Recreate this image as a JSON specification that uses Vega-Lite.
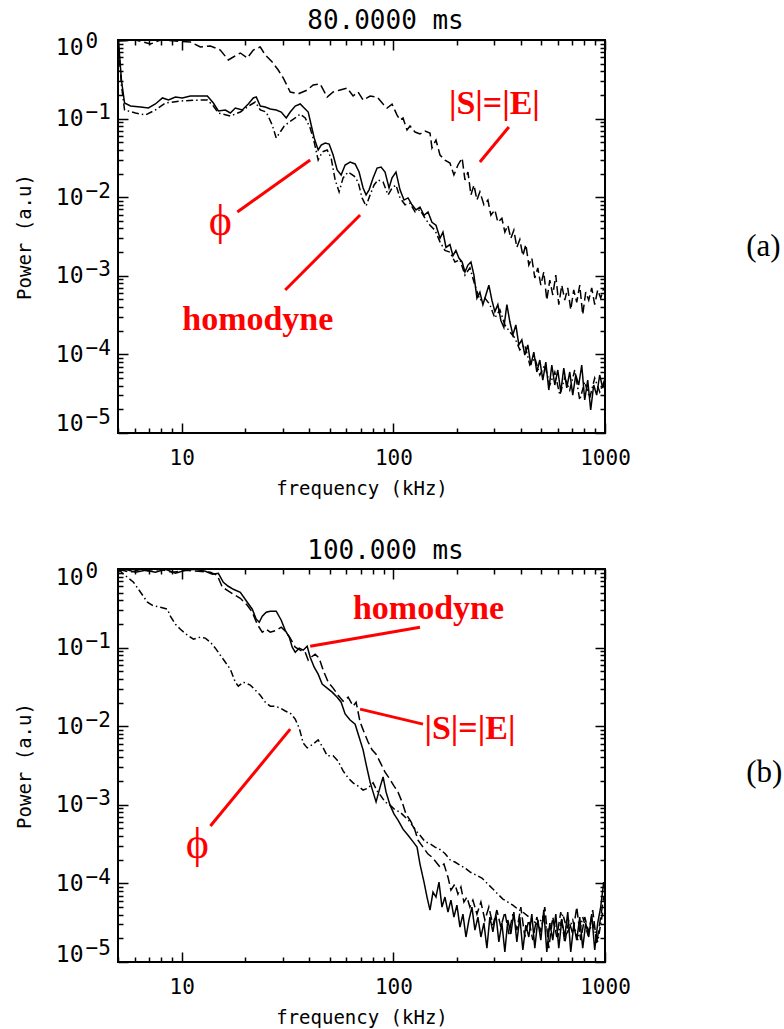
{
"$schema": "https://vega.github.io/schema/vega-lite/v6.json",
"background": "white",
"padding": {"left": 14, "top": 7, "right": 0, "bottom": 0},
"spacing": 38,
"config": {
  "view": {"stroke": "black", "strokeWidth": 2},
  "font": "DejaVu Sans Mono",
  "axis": {"grid": false, "domain": false, "labelFont": "DejaVu Sans Mono", "titleFont": "DejaVu Sans Mono", "labelColor": "black", "titleColor": "black", "tickColor": "black", "labelOverlap": false, "labelFlush": false, "titleFontWeight": "normal"},
  "title": {"font": "DejaVu Sans Mono", "fontSize": 26, "fontWeight": "normal", "color": "black"}
},
"datasets": {
  "aS": [{"f":5.03,"p":0.971},{"f":6.05,"p":1.0},{"f":7.12,"p":0.889},{"f":7.93,"p":1.0},{"f":9.34,"p":0.971},{"f":10.99,"p":0.943},{"f":12.25,"p":0.815},{"f":13.66,"p":0.839},{"f":15.22,"p":0.746},{"f":16.6,"p":0.557},{"f":17.54,"p":0.608},{"f":18.92,"p":0.683},{"f":20.41,"p":0.59},{"f":21.79,"p":0.746},{"f":23.51,"p":0.815},{"f":24.82,"p":0.644},{"f":26.77,"p":0.525},{"f":28.58,"p":0.415},{"f":30.17,"p":0.329},{"f":32.56,"p":0.218},{"f":35.51,"p":0.206},{"f":39.16,"p":0.231},{"f":41.8,"p":0.268},{"f":45.1,"p":0.276},{"f":48.67,"p":0.188},{"f":51.94,"p":0.218},{"f":56.04,"p":0.231},{"f":60.45,"p":0.245},{"f":64.53,"p":0.194},{"f":68.14,"p":0.218},{"f":71.94,"p":0.172},{"f":77.63,"p":0.194},{"f":83.79,"p":0.188},{"f":89.43,"p":0.153},{"f":93.4,"p":0.136},{"f":98.6,"p":0.153},{"f":104.1,"p":0.111},{"f":107.5,"p":0.096},{"f":111.1,"p":0.102},{"f":116,"p":0.0716},{"f":119.9,"p":0.0805},{"f":126.6,"p":0.0675},{"f":133.6,"p":0.0637},{"f":141.1,"p":0.0695},{"f":149,"p":0.0656},{"f":152.2,"p":0.0423},{"f":159,"p":0.0534},{"f":166.1,"p":0.0344},{"f":175.3,"p":0.0297},{"f":185.1,"p":0.0272},{"f":193.3,"p":0.0192},{"f":201.9,"p":0.0257},{"f":211.3,"p":0.0315},{"f":217.9,"p":0.0166},{"f":225.1,"p":0.0209},{"f":232.6,"p":0.0107},{"f":240.3,"p":0.0143},{"f":248.3,"p":0.0092},{"f":256.4,"p":0.0117},{"f":267.8,"p":0.008},{"f":279.7,"p":0.0092},{"f":288.9,"p":0.0059},{"f":301.7,"p":0.0069},{"f":311.7,"p":0.0048},{"f":325.6,"p":0.0054},{"f":336.4,"p":0.0036},{"f":347.5,"p":0.0044},{"f":359.1,"p":0.003},{"f":371,"p":0.0038},{"f":383.3,"p":0.0023},{"f":395.9,"p":0.0029},{"f":409.1,"p":0.0018},{"f":422.6,"p":0.0025},{"f":436.6,"p":0.00137},{"f":451,"p":0.00168},{"f":466,"p":0.00094},{"f":481.4,"p":0.00126},{"f":497.4,"p":0.00076},{"f":513.8,"p":0.00112},{"f":530.9,"p":0.00049},{"f":548.5,"p":0.00088},{"f":566.6,"p":0.00057},{"f":585.4,"p":0.00102},{"f":604.8,"p":0.00043},{"f":624.8,"p":0.00076},{"f":645.5,"p":0.00049},{"f":666.8,"p":0.0007},{"f":688.9,"p":0.00037},{"f":711.7,"p":0.00066},{"f":735.3,"p":0.00046},{"f":759.8,"p":0.00076},{"f":784.8,"p":0.00032},{"f":810.8,"p":0.00062},{"f":837.7,"p":0.00049},{"f":865.4,"p":0.0007},{"f":894.1,"p":0.00043},{"f":923.6,"p":0.00066},{"f":954.3,"p":0.00052},{"f":985.8,"p":0.0007}],
  "aH": [{"f":5.03,"p":0.95},{"f":5.19,"p":0.31},{"f":5.37,"p":0.158},{"f":5.73,"p":0.1446},{"f":6.39,"p":0.1405},{"f":6.96,"p":0.1364},{"f":7.51,"p":0.1534},{"f":8.11,"p":0.183},{"f":8.66,"p":0.1724},{"f":9.34,"p":0.1883},{"f":10.07,"p":0.183},{"f":10.99,"p":0.194},{"f":12.25,"p":0.194},{"f":13.22,"p":0.194},{"f":14.11,"p":0.158},{"f":14.9,"p":0.125},{"f":16.08,"p":0.1287},{"f":16.97,"p":0.1178},{"f":17.92,"p":0.1364},{"f":19.33,"p":0.1287},{"f":20.63,"p":0.1534},{"f":21.79,"p":0.183},{"f":22.5,"p":0.1883},{"f":23.51,"p":0.1446},{"f":24.82,"p":0.1405},{"f":26.2,"p":0.1325},{"f":27.96,"p":0.1287},{"f":29.53,"p":0.1213},{"f":31.18,"p":0.1018},{"f":32.56,"p":0.1213},{"f":34.38,"p":0.1446},{"f":36.3,"p":0.1534},{"f":37.91,"p":0.1364},{"f":39.6,"p":0.1213},{"f":40.9,"p":0.0829},{"f":42.26,"p":0.0567},{"f":44.13,"p":0.0399},{"f":45.6,"p":0.0461},{"f":47.62,"p":0.0489},{"f":49.74,"p":0.0475},{"f":51.94,"p":0.0344},{"f":54.26,"p":0.0222},{"f":56.65,"p":0.0192},{"f":59.17,"p":0.0257},{"f":62.47,"p":0.028},{"f":65.96,"p":0.0265},{"f":68.88,"p":0.0209},{"f":71.94,"p":0.0131},{"f":74.31,"p":0.0107},{"f":76.79,"p":0.0124},{"f":80.2,"p":0.0176},{"f":83.79,"p":0.0235},{"f":87.49,"p":0.0242},{"f":91.36,"p":0.0209},{"f":95.43,"p":0.0131},{"f":98.6,"p":0.0176},{"f":102.9,"p":0.0209},{"f":107.5,"p":0.0124},{"f":112.3,"p":0.0092},{"f":117.3,"p":0.0098},{"f":122.5,"p":0.008},{"f":128,"p":0.0069},{"f":133.6,"p":0.0075},{"f":139.6,"p":0.0059},{"f":145.8,"p":0.0065},{"f":152.2,"p":0.0048},{"f":159,"p":0.0044},{"f":166.1,"p":0.003},{"f":171.6,"p":0.0036},{"f":177.3,"p":0.0023},{"f":185.1,"p":0.0025},{"f":191.2,"p":0.0018},{"f":197.5,"p":0.0021},{"f":204.1,"p":0.00168},{"f":211.3,"p":0.0015},{"f":217.9,"p":0.00112},{"f":225.1,"p":0.00137},{"f":232.6,"p":0.0015},{"f":240.3,"p":0.00102},{"f":248.3,"p":0.00052},{"f":256.4,"p":0.00062},{"f":264.9,"p":0.00043},{"f":273.6,"p":0.00057},{"f":282.7,"p":0.00076},{"f":292.1,"p":0.00049},{"f":301.7,"p":0.00035},{"f":311.7,"p":0.00043},{"f":322.1,"p":0.00027},{"f":332.8,"p":0.00022},{"f":343.9,"p":0.00043},{"f":355.2,"p":0.00026},{"f":367,"p":0.000177},{"f":379.1,"p":0.000237},{"f":391.6,"p":0.000132},{"f":404.6,"p":0.000153},{"f":418,"p":0.0000983},{"f":431.9,"p":0.000132},{"f":446.2,"p":0.0000733},{"f":461,"p":0.000107},{"f":476.3,"p":0.0000597},{"f":492,"p":0.0000849},{"f":508.3,"p":0.0000472},{"f":525.2,"p":0.00008},{"f":542.6,"p":0.0000352},{"f":560.6,"p":0.0000733},{"f":579.1,"p":0.0000408},{"f":598.4,"p":0.0000633},{"f":618,"p":0.0000332},{"f":638.6,"p":0.0000671},{"f":659.6,"p":0.0000374},{"f":681.6,"p":0.0000597},{"f":704,"p":0.0000304},{"f":727.5,"p":0.0000547},{"f":751.5,"p":0.0000408},{"f":776.4,"p":0.0000733},{"f":802,"p":0.0000263},{"f":828.6,"p":0.0000472},{"f":855.9,"p":0.0000196},{"f":884.4,"p":0.0000408},{"f":913.4,"p":0.0000304},{"f":944.1,"p":0.0000547},{"f":975.4,"p":0.0000374},{"f":997,"p":0.0000472}],
  "aP": [{"f":5.03,"p":0.85},{"f":5.19,"p":0.268},{"f":5.37,"p":0.1287},{"f":6.05,"p":0.1178},{"f":6.74,"p":0.111},{"f":7.51,"p":0.1287},{"f":8.38,"p":0.158},{"f":9.86,"p":0.1675},{"f":12.25,"p":0.1724},{"f":13.22,"p":0.1724},{"f":14.11,"p":0.1446},{"f":14.9,"p":0.1178},{"f":16.97,"p":0.1079},{"f":18.92,"p":0.1213},{"f":21.09,"p":0.149},{"f":22.27,"p":0.1627},{"f":23.51,"p":0.1287},{"f":25.08,"p":0.1213},{"f":26.77,"p":0.0829},{"f":27.96,"p":0.0567},{"f":29.21,"p":0.0675},{"f":30.51,"p":0.0805},{"f":32.21,"p":0.0905},{"f":34.38,"p":0.1018},{"f":36.3,"p":0.1144},{"f":38.32,"p":0.1018},{"f":40.46,"p":0.0759},{"f":42.26,"p":0.0504},{"f":44.13,"p":0.0297},{"f":46.09,"p":0.0376},{"f":48.67,"p":0.0399},{"f":50.83,"p":0.0315},{"f":53.09,"p":0.0166},{"f":55.43,"p":0.0117},{"f":57.89,"p":0.0176},{"f":61.14,"p":0.0209},{"f":65.26,"p":0.0186},{"f":68.14,"p":0.0156},{"f":71.17,"p":0.0098},{"f":74.31,"p":0.0077},{"f":77.63,"p":0.0107},{"f":81.07,"p":0.0143},{"f":84.7,"p":0.0166},{"f":89.43,"p":0.0156},{"f":94.4,"p":0.0107},{"f":98.6,"p":0.0131},{"f":102.9,"p":0.0143},{"f":107.5,"p":0.0098},{"f":113.6,"p":0.008},{"f":119.9,"p":0.0084},{"f":126.6,"p":0.0065},{"f":133.6,"p":0.0069},{"f":141.1,"p":0.0054},{"f":149,"p":0.0044},{"f":157.3,"p":0.0038},{"f":166.1,"p":0.0027},{"f":175.3,"p":0.0021},{"f":185.1,"p":0.002},{"f":195.4,"p":0.0015},{"f":206.4,"p":0.0016},{"f":217.9,"p":0.00102},{"f":230,"p":0.00126},{"f":242.9,"p":0.00076},{"f":256.4,"p":0.00049},{"f":270.7,"p":0.00052},{"f":285.8,"p":0.00043},{"f":301.7,"p":0.00029},{"f":318.6,"p":0.00037},{"f":336.4,"p":0.000237},{"f":355.2,"p":0.000193},{"f":375,"p":0.000162},{"f":395.9,"p":0.000114},{"f":418,"p":0.000132},{"f":441.4,"p":0.0000733},{"f":466,"p":0.00009},{"f":492,"p":0.0000547},{"f":519.4,"p":0.0000733},{"f":548.5,"p":0.0000408},{"f":579.1,"p":0.0000597},{"f":611.4,"p":0.0000304},{"f":645.5,"p":0.0000501},{"f":681.6,"p":0.0000352},{"f":719.6,"p":0.0000633},{"f":759.8,"p":0.0000263},{"f":802,"p":0.0000445},{"f":846.9,"p":0.0000279},{"f":894.1,"p":0.0000501},{"f":944.1,"p":0.0000332},{"f":997,"p":0.0000472}],
  "bH": [{"f":5.03,"p":0.935},{"f":5.43,"p":0.991},{"f":6.05,"p":0.908},{"f":6.74,"p":0.962},{"f":7.51,"p":0.908},{"f":8.38,"p":0.991},{"f":9.34,"p":0.882},{"f":10.41,"p":0.962},{"f":11.6,"p":0.99},{"f":12.93,"p":0.935},{"f":13.96,"p":0.856},{"f":14.9,"p":0.882},{"f":15.73,"p":0.678},{"f":16.6,"p":0.603},{"f":17.54,"p":0.552},{"f":18.92,"p":0.506},{"f":20.41,"p":0.378},{"f":21.55,"p":0.308},{"f":22.5,"p":0.23},{"f":23.25,"p":0.21},{"f":24.02,"p":0.251},{"f":25.08,"p":0.282},{"f":26.2,"p":0.29},{"f":27.96,"p":0.29},{"f":29.53,"p":0.223},{"f":30.84,"p":0.166},{"f":32.21,"p":0.136},{"f":33.28,"p":0.101},{"f":34.38,"p":0.0874},{"f":35.9,"p":0.0983},{"f":37.5,"p":0.0927},{"f":39.16,"p":0.104},{"f":40.46,"p":0.0755},{"f":42.26,"p":0.0563},{"f":44.13,"p":0.0459},{"f":46.09,"p":0.0343},{"f":48.67,"p":0.0305},{"f":51.38,"p":0.0271},{"f":54.26,"p":0.0234},{"f":56.65,"p":0.0202},{"f":59.17,"p":0.0143},{"f":62.47,"p":0.012},{"f":65.96,"p":0.0106},{"f":68.88,"p":0.0073},{"f":71.94,"p":0.005},{"f":74.31,"p":0.0033},{"f":77.63,"p":0.00195},{"f":80.2,"p":0.00145},{"f":82.86,"p":0.00109},{"f":86.54,"p":0.00168},{"f":89.43,"p":0.00226},{"f":92.39,"p":0.00145},{"f":96.47,"p":0.00099},{"f":100.8,"p":0.00076},{"f":105.2,"p":0.00064},{"f":111.1,"p":0.00049},{"f":117.3,"p":0.00041},{"f":123.8,"p":0.00034},{"f":129.4,"p":0.00029},{"f":133.6,"p":0.000176},{"f":139.6,"p":0.000104},{"f":144.2,"p":0.000067},{"f":149,"p":0.0000458},{"f":153.9,"p":0.0000775},{"f":159,"p":0.000067},{"f":164.3,"p":0.000104},{"f":169.7,"p":0.00005},{"f":175.3,"p":0.000067},{"f":181.2,"p":0.0000432},{"f":187.1,"p":0.0000613},{"f":193.3,"p":0.0000373},{"f":199.7,"p":0.000053},{"f":206.4,"p":0.0000278},{"f":213.2,"p":0.0000407},{"f":220.3,"p":0.0000208},{"f":227.5,"p":0.0000342},{"f":235.1,"p":0.00005},{"f":242.9,"p":0.0000255},{"f":250.9,"p":0.0000373},{"f":259.2,"p":0.0000208},{"f":267.8,"p":0.0000312},{"f":276.7,"p":0.000015},{"f":285.8,"p":0.0000373},{"f":295.3,"p":0.0000241},{"f":305.1,"p":0.0000407},{"f":315.1,"p":0.000018},{"f":325.6,"p":0.0000312},{"f":336.4,"p":0.0000134},{"f":347.5,"p":0.0000342},{"f":359.1,"p":0.0000227},{"f":371,"p":0.0000432},{"f":383.3,"p":0.000018},{"f":395.9,"p":0.0000373},{"f":409.1,"p":0.0000142},{"f":422.6,"p":0.0000294},{"f":436.6,"p":0.0000208},{"f":451,"p":0.0000407},{"f":466,"p":0.000015},{"f":481.4,"p":0.0000342},{"f":497.4,"p":0.000019},{"f":513.8,"p":0.0000458},{"f":530.9,"p":0.0000134},{"f":548.5,"p":0.0000312},{"f":566.6,"p":0.000019},{"f":585.4,"p":0.0000407},{"f":604.8,"p":0.000015},{"f":624.8,"p":0.0000342},{"f":645.5,"p":0.0000208},{"f":666.8,"p":0.0000432},{"f":688.9,"p":0.0000134},{"f":711.7,"p":0.0000294},{"f":735.3,"p":0.000019},{"f":759.8,"p":0.0000373},{"f":784.8,"p":0.000015},{"f":810.8,"p":0.0000312},{"f":837.7,"p":0.0000208},{"f":865.4,"p":0.0000407},{"f":894.1,"p":0.0000142},{"f":923.6,"p":0.0000312},{"f":954.3,"p":0.00005},{"f":985.8,"p":0.000104}],
  "bS": [{"f":5.03,"p":0.99},{"f":5.73,"p":0.908},{"f":6.39,"p":0.99},{"f":7.12,"p":0.935},{"f":7.93,"p":0.99},{"f":9.04,"p":0.908},{"f":10.41,"p":0.962},{"f":11.99,"p":0.935},{"f":13.66,"p":0.908},{"f":14.73,"p":0.832},{"f":15.56,"p":0.586},{"f":16.43,"p":0.536},{"f":17.54,"p":0.477},{"f":18.92,"p":0.424},{"f":20.41,"p":0.346},{"f":21.55,"p":0.282},{"f":22.75,"p":0.198},{"f":24.02,"p":0.157},{"f":25.08,"p":0.171},{"f":26.2,"p":0.157},{"f":27.96,"p":0.166},{"f":29.53,"p":0.182},{"f":31.18,"p":0.157},{"f":32.56,"p":0.132},{"f":34.38,"p":0.101},{"f":36.3,"p":0.0927},{"f":38.32,"p":0.0874},{"f":39.6,"p":0.0692},{"f":40.9,"p":0.0755},{"f":42.7,"p":0.0824},{"f":44.62,"p":0.0733},{"f":46.6,"p":0.0516},{"f":49.2,"p":0.0363},{"f":51.94,"p":0.0305},{"f":54.84,"p":0.0248},{"f":57.89,"p":0.0208},{"f":61.14,"p":0.0234},{"f":64.53,"p":0.018},{"f":66.68,"p":0.0202},{"f":69.64,"p":0.0113},{"f":72.72,"p":0.0084},{"f":75.96,"p":0.0063},{"f":79.33,"p":0.005},{"f":82.86,"p":0.0044},{"f":86.54,"p":0.0035},{"f":91.36,"p":0.0026},{"f":96.47,"p":0.0021},{"f":100.8,"p":0.00173},{"f":105.2,"p":0.00145},{"f":109.9,"p":0.00109},{"f":114.8,"p":0.00076},{"f":119.9,"p":0.00064},{"f":125.2,"p":0.00052},{"f":130.8,"p":0.000355},{"f":138.1,"p":0.000289},{"f":145.8,"p":0.000236},{"f":152.2,"p":0.000216},{"f":159,"p":0.000187},{"f":166.1,"p":0.000161},{"f":173.4,"p":0.000176},{"f":181.2,"p":0.00012},{"f":187.1,"p":0.0000822},{"f":195.4,"p":0.000098},{"f":201.9,"p":0.0000731},{"f":208.6,"p":0.0000897},{"f":215.5,"p":0.0000579},{"f":222.6,"p":0.000067},{"f":230,"p":0.00005},{"f":237.6,"p":0.0000613},{"f":248.3,"p":0.0000407},{"f":259.2,"p":0.0000579},{"f":270.7,"p":0.0000342},{"f":282.7,"p":0.00005},{"f":295.3,"p":0.0000294},{"f":308.4,"p":0.0000458},{"f":322.1,"p":0.0000278},{"f":336.4,"p":0.0000432},{"f":351.3,"p":0.0000227},{"f":367,"p":0.0000407},{"f":383.3,"p":0.0000255},{"f":400.2,"p":0.00005},{"f":418,"p":0.0000208},{"f":436.6,"p":0.0000342},{"f":456,"p":0.000019},{"f":476.3,"p":0.0000373},{"f":497.4,"p":0.0000241},{"f":519.4,"p":0.00005},{"f":542.6,"p":0.000015},{"f":566.6,"p":0.0000373},{"f":591.8,"p":0.0000208},{"f":618,"p":0.0000432},{"f":645.5,"p":0.0000174},{"f":674.2,"p":0.0000342},{"f":704,"p":0.0000227},{"f":735.3,"p":0.00005},{"f":768,"p":0.000019},{"f":802,"p":0.0000373},{"f":837.7,"p":0.0000241},{"f":875,"p":0.0000458},{"f":913.4,"p":0.0000174},{"f":954.3,"p":0.0000373},{"f":985.8,"p":0.000067}],
  "bP": [{"f":5.03,"p":0.99},{"f":5.31,"p":0.856},{"f":5.54,"p":0.785},{"f":5.92,"p":0.678},{"f":6.39,"p":0.506},{"f":6.89,"p":0.378},{"f":7.27,"p":0.345},{"f":7.93,"p":0.326},{"f":8.56,"p":0.308},{"f":8.84,"p":0.251},{"f":9.34,"p":0.198},{"f":9.86,"p":0.171},{"f":10.64,"p":0.144},{"f":11.36,"p":0.128},{"f":12.25,"p":0.136},{"f":12.93,"p":0.132},{"f":13.66,"p":0.117},{"f":14.42,"p":0.0983},{"f":15.22,"p":0.08},{"f":16.08,"p":0.0652},{"f":16.97,"p":0.0531},{"f":17.92,"p":0.0363},{"f":18.51,"p":0.0323},{"f":19.54,"p":0.0363},{"f":21.09,"p":0.0333},{"f":22.27,"p":0.0288},{"f":23.51,"p":0.0248},{"f":24.82,"p":0.0202},{"f":26.2,"p":0.018},{"f":27.67,"p":0.018},{"f":29.21,"p":0.017},{"f":30.84,"p":0.0156},{"f":32.56,"p":0.0147},{"f":34.38,"p":0.0123},{"f":35.9,"p":0.0095},{"f":37.5,"p":0.0061},{"f":39.16,"p":0.0053},{"f":41.35,"p":0.0058},{"f":44.13,"p":0.0067},{"f":46.6,"p":0.0053},{"f":48.67,"p":0.0042},{"f":51.94,"p":0.0042},{"f":54.84,"p":0.0036},{"f":57.89,"p":0.0027},{"f":61.14,"p":0.0022},{"f":64.53,"p":0.0019},{"f":68.14,"p":0.00173},{"f":71.94,"p":0.00154},{"f":75.96,"p":0.00163},{"f":80.2,"p":0.0019},{"f":83.79,"p":0.0015},{"f":87.49,"p":0.00129},{"f":91.36,"p":0.00109},{"f":96.47,"p":0.00099},{"f":101.9,"p":0.00086},{"f":107.5,"p":0.00081},{"f":113.6,"p":0.0007},{"f":119.9,"p":0.00061},{"f":126.6,"p":0.00048},{"f":133.6,"p":0.00041},{"f":141.1,"p":0.00034},{"f":149,"p":0.00032},{"f":157.3,"p":0.00029},{"f":166.1,"p":0.00027},{"f":175.3,"p":0.00024},{"f":185.1,"p":0.0002},{"f":195.4,"p":0.000187},{"f":206.4,"p":0.000171},{"f":217.9,"p":0.000157},{"f":230,"p":0.00014},{"f":245.5,"p":0.000128},{"f":262,"p":0.000117},{"f":279.7,"p":0.000098},{"f":295.3,"p":0.0000851},{"f":311.7,"p":0.0000731},{"f":329.3,"p":0.0000632},{"f":347.5,"p":0.0000579},{"f":367,"p":0.000053},{"f":387.4,"p":0.0000471},{"f":409.1,"p":0.0000432},{"f":431.9,"p":0.0000384},{"f":456,"p":0.0000342},{"f":481.4,"p":0.0000294},{"f":508.3,"p":0.0000373},{"f":536.7,"p":0.0000241},{"f":566.6,"p":0.0000342},{"f":598.4,"p":0.0000208},{"f":631.7,"p":0.0000407},{"f":666.8,"p":0.0000241},{"f":704,"p":0.0000342},{"f":743.4,"p":0.000019},{"f":784.8,"p":0.0000373},{"f":828.6,"p":0.0000227},{"f":875,"p":0.0000312},{"f":923.6,"p":0.000018},{"f":975.4,"p":0.0000432}],
  "aRule": [{"x1":18.31,"y1":0.00648,"x2":40.46,"y2":0.0297},{"x1":30.84,"y1":0.00066,"x2":69.64,"y2":0.00594},{"x1":256.4,"y1":0.028,"x2":351.3,"y2":0.0781}],
  "bRule": [{"x1":40.46,"y1":0.1042,"x2":133.6,"y2":0.1816},{"x1":69.64,"y1":0.0165,"x2":138.1,"y2":0.01063},{"x1":13.66,"y1":0.000538,"x2":32.56,"y2":0.00918}],
  "aText": [{"t":"homodyne","f":22.88,"p":0.000204},{"t":"|S|=|E|","f":300.1,"p":0.1144}],
  "bText": [{"t":"homodyne","f":146.6,"p":0.2296},{"t":"|S|=|E|","f":230,"p":0.00686}],
  "aPhi": [{"t":"ϕ","f":15.22,"p":0.00484}],
  "bPhi": [{"t":"ϕ","f":11.86,"p":0.000308}]
},
"vconcat": [
{
  "title": {"text": "80.0000 ms", "dx": 24, "offset": -4},
  "width": 487, "height": 393,
  "resolve": {"axis": {"x": "independent", "y": "independent"}},
  "layer": [
    {"data": {"name": "aH"},
     "mark": {"type": "line", "color": "black", "strokeWidth": 1.5, "clip": true},
     "encoding": {
       "x": {"field": "f", "type": "quantitative", "scale": {"type": "log", "domain": [5, 1000], "nice": false},
             "axis": {"orient": "bottom", "values": [10, 100, 1000], "ticks": false, "labelExpr": "datum.value > 999 ? '1000' : datum.value > 99 ? '100' : '10'", "labelFontSize": 21, "labelPadding": 14, "title": "frequency (kHz)", "titleFontSize": 19, "titlePadding": 11}},
       "y": {"field": "p", "type": "quantitative", "scale": {"type": "log", "domain": [0.00001, 1], "nice": false},
             "axis": {"orient": "left", "values": [0.00001, 0.0001, 0.001, 0.01, 0.1, 1], "ticks": false, "labelExpr": "'10'", "labelFontSize": 23, "labelPadding": 35, "labelOffset": {"condition": [{"test": "datum.value > 0.5", "value": 7}, {"test": "datum.value < 0.00002", "value": -10}], "value": 0}, "title": "Power (a.u)", "titleFontSize": 19, "titlePadding": 21}}
     }},
    {"data": {"name": "aP"},
     "mark": {"type": "line", "color": "black", "strokeWidth": 1.5, "clip": true, "strokeDash": [7, 3, 1.5, 3]},
     "encoding": {
       "x": {"field": "f", "type": "quantitative", "scale": {"type": "log", "domain": [5, 1000], "nice": false}, "axis": null},
       "y": {"field": "p", "type": "quantitative", "scale": {"type": "log", "domain": [0.00001, 1], "nice": false}, "axis": null}
     }},
    {"data": {"name": "aS"},
     "mark": {"type": "line", "color": "black", "strokeWidth": 1.5, "clip": true, "strokeDash": [9, 4]},
     "encoding": {
       "x": {"field": "f", "type": "quantitative", "scale": {"type": "log", "domain": [5, 1000], "nice": false}, "axis": null},
       "y": {"field": "p", "type": "quantitative", "scale": {"type": "log", "domain": [0.00001, 1], "nice": false}, "axis": null}
     }},
    {"data": {"name": "aRule"},
     "mark": {"type": "rule", "color": "#ff0000", "strokeWidth": 3},
     "encoding": {
       "x": {"field": "x1", "type": "quantitative", "scale": {"type": "log", "domain": [5, 1000], "nice": false},
             "axis": {"orient": "top", "values": [5,6,7,8,9,10,20,30,40,50,60,70,80,90,100,200,300,400,500,600,700,800,900,1000], "labels": false, "tickWidth": 1.5, "tickSize": {"condition": {"test": "abs(log(datum.value)/LN10 - round(log(datum.value)/LN10)) < 0.001", "value": -10}, "value": -5}, "title": null}},
       "y": {"field": "y1", "type": "quantitative", "scale": {"type": "log", "domain": [0.00001, 1], "nice": false},
             "axis": {"orient": "left", "values": [0.00001, 0.0001, 0.001, 0.01, 0.1, 1], "ticks": false, "labelExpr": "round(log(datum.value)/LN10) == 0 ? '0' : '−' + (-round(log(datum.value)/LN10))", "labelAlign": "left", "labelBaseline": "alphabetic", "labelFontSize": 21, "labelPadding": 33, "labelOffset": {"condition": [{"test": "datum.value > 0.5", "value": 7}, {"test": "datum.value < 0.00002", "value": -10}], "value": 0}, "title": null}},
       "x2": {"field": "x2"},
       "y2": {"field": "y2"}
     }},
    {"data": {"name": "aText"},
     "mark": {"type": "text", "color": "#ff0000", "font": "Liberation Serif", "fontWeight": "bold", "fontSize": 34, "align": "center", "baseline": "alphabetic"},
     "encoding": {
       "x": {"field": "f", "type": "quantitative", "scale": {"type": "log", "domain": [5, 1000], "nice": false},
             "axis": {"orient": "bottom", "values": [5,6,7,8,9,10,20,30,40,50,60,70,80,90,100,200,300,400,500,600,700,800,900,1000], "labels": false, "tickWidth": 1.5, "tickSize": {"condition": {"test": "abs(log(datum.value)/LN10 - round(log(datum.value)/LN10)) < 0.001", "value": -10}, "value": -5}, "title": null}},
       "y": {"field": "p", "type": "quantitative", "scale": {"type": "log", "domain": [0.00001, 1], "nice": false},
             "axis": {"orient": "right", "values": [0.00001,0.00002,0.00003,0.00004,0.00005,0.00006,0.00007,0.00008,0.00009,0.0001,0.0002,0.0003,0.0004,0.0005,0.0006,0.0007,0.0008,0.0009,0.001,0.002,0.003,0.004,0.005,0.006,0.007,0.008,0.009,0.01,0.02,0.03,0.04,0.05,0.06,0.07,0.08,0.09,0.1,0.2,0.3,0.4,0.5,0.6,0.7,0.8,0.9,1], "labels": false, "tickWidth": 1.5, "tickSize": {"condition": {"test": "abs(log(datum.value)/LN10 - round(log(datum.value)/LN10)) < 0.001", "value": -10}, "value": -5}, "title": "(a)", "titleFont": "Liberation Serif", "titleFontSize": 31, "titleFontWeight": "normal", "titleAngle": 0, "titleAlign": "left", "titleBaseline": "middle", "titlePadding": 140, "titleY": 206}},
       "text": {"field": "t"}
     }},
    {"data": {"name": "aPhi"},
     "mark": {"type": "text", "color": "#ff0000", "font": "Liberation Serif", "fontSize": 44, "align": "center", "baseline": "middle"},
     "encoding": {
       "x": {"field": "f", "type": "quantitative", "scale": {"type": "log", "domain": [5, 1000], "nice": false}, "axis": null},
       "y": {"field": "p", "type": "quantitative", "scale": {"type": "log", "domain": [0.00001, 1], "nice": false},
             "axis": {"orient": "left", "values": [0.00001,0.00002,0.00003,0.00004,0.00005,0.00006,0.00007,0.00008,0.00009,0.0001,0.0002,0.0003,0.0004,0.0005,0.0006,0.0007,0.0008,0.0009,0.001,0.002,0.003,0.004,0.005,0.006,0.007,0.008,0.009,0.01,0.02,0.03,0.04,0.05,0.06,0.07,0.08,0.09,0.1,0.2,0.3,0.4,0.5,0.6,0.7,0.8,0.9,1], "labels": false, "tickWidth": 1.5, "tickSize": {"condition": {"test": "abs(log(datum.value)/LN10 - round(log(datum.value)/LN10)) < 0.001", "value": -10}, "value": -5}, "title": null}},
       "text": {"field": "t"}
     }}
  ]
},
{
  "title": {"text": "100.000 ms", "dx": 24, "offset": -4},
  "width": 487, "height": 393,
  "resolve": {"axis": {"x": "independent", "y": "independent"}},
  "layer": [
    {"data": {"name": "bH"},
     "mark": {"type": "line", "color": "black", "strokeWidth": 1.5, "clip": true},
     "encoding": {
       "x": {"field": "f", "type": "quantitative", "scale": {"type": "log", "domain": [5, 1000], "nice": false},
             "axis": {"orient": "bottom", "values": [10, 100, 1000], "ticks": false, "labelExpr": "datum.value > 999 ? '1000' : datum.value > 99 ? '100' : '10'", "labelFontSize": 21, "labelPadding": 14, "title": "frequency (kHz)", "titleFontSize": 19, "titlePadding": 11}},
       "y": {"field": "p", "type": "quantitative", "scale": {"type": "log", "domain": [0.00001, 1], "nice": false},
             "axis": {"orient": "left", "values": [0.00001, 0.0001, 0.001, 0.01, 0.1, 1], "ticks": false, "labelExpr": "'10'", "labelFontSize": 23, "labelPadding": 35, "labelOffset": {"condition": [{"test": "datum.value > 0.5", "value": 8}, {"test": "datum.value < 0.00002", "value": -8}], "value": 0}, "title": "Power (a.u)", "titleFontSize": 19, "titlePadding": 21}}
     }},
    {"data": {"name": "bP"},
     "mark": {"type": "line", "color": "black", "strokeWidth": 1.5, "clip": true, "strokeDash": [7, 3, 1.5, 3]},
     "encoding": {
       "x": {"field": "f", "type": "quantitative", "scale": {"type": "log", "domain": [5, 1000], "nice": false}, "axis": null},
       "y": {"field": "p", "type": "quantitative", "scale": {"type": "log", "domain": [0.00001, 1], "nice": false}, "axis": null}
     }},
    {"data": {"name": "bS"},
     "mark": {"type": "line", "color": "black", "strokeWidth": 1.5, "clip": true, "strokeDash": [9, 4]},
     "encoding": {
       "x": {"field": "f", "type": "quantitative", "scale": {"type": "log", "domain": [5, 1000], "nice": false}, "axis": null},
       "y": {"field": "p", "type": "quantitative", "scale": {"type": "log", "domain": [0.00001, 1], "nice": false}, "axis": null}
     }},
    {"data": {"name": "bRule"},
     "mark": {"type": "rule", "color": "#ff0000", "strokeWidth": 3},
     "encoding": {
       "x": {"field": "x1", "type": "quantitative", "scale": {"type": "log", "domain": [5, 1000], "nice": false},
             "axis": {"orient": "top", "values": [5,6,7,8,9,10,20,30,40,50,60,70,80,90,100,200,300,400,500,600,700,800,900,1000], "labels": false, "tickWidth": 1.5, "tickSize": {"condition": {"test": "abs(log(datum.value)/LN10 - round(log(datum.value)/LN10)) < 0.001", "value": -10}, "value": -5}, "title": null}},
       "y": {"field": "y1", "type": "quantitative", "scale": {"type": "log", "domain": [0.00001, 1], "nice": false},
             "axis": {"orient": "left", "values": [0.00001, 0.0001, 0.001, 0.01, 0.1, 1], "ticks": false, "labelExpr": "round(log(datum.value)/LN10) == 0 ? '0' : '−' + (-round(log(datum.value)/LN10))", "labelAlign": "left", "labelBaseline": "alphabetic", "labelFontSize": 21, "labelPadding": 33, "labelOffset": {"condition": [{"test": "datum.value > 0.5", "value": 8}, {"test": "datum.value < 0.00002", "value": -8}], "value": 0}, "title": null}},
       "x2": {"field": "x2"},
       "y2": {"field": "y2"}
     }},
    {"data": {"name": "bText"},
     "mark": {"type": "text", "color": "#ff0000", "font": "Liberation Serif", "fontWeight": "bold", "fontSize": 34, "align": "center", "baseline": "alphabetic"},
     "encoding": {
       "x": {"field": "f", "type": "quantitative", "scale": {"type": "log", "domain": [5, 1000], "nice": false},
             "axis": {"orient": "bottom", "values": [5,6,7,8,9,10,20,30,40,50,60,70,80,90,100,200,300,400,500,600,700,800,900,1000], "labels": false, "tickWidth": 1.5, "tickSize": {"condition": {"test": "abs(log(datum.value)/LN10 - round(log(datum.value)/LN10)) < 0.001", "value": -10}, "value": -5}, "title": null}},
       "y": {"field": "p", "type": "quantitative", "scale": {"type": "log", "domain": [0.00001, 1], "nice": false},
             "axis": {"orient": "right", "values": [0.00001,0.00002,0.00003,0.00004,0.00005,0.00006,0.00007,0.00008,0.00009,0.0001,0.0002,0.0003,0.0004,0.0005,0.0006,0.0007,0.0008,0.0009,0.001,0.002,0.003,0.004,0.005,0.006,0.007,0.008,0.009,0.01,0.02,0.03,0.04,0.05,0.06,0.07,0.08,0.09,0.1,0.2,0.3,0.4,0.5,0.6,0.7,0.8,0.9,1], "labels": false, "tickWidth": 1.5, "tickSize": {"condition": {"test": "abs(log(datum.value)/LN10 - round(log(datum.value)/LN10)) < 0.001", "value": -10}, "value": -5}, "title": "(b)", "titleFont": "Liberation Serif", "titleFontSize": 31, "titleFontWeight": "normal", "titleAngle": 0, "titleAlign": "left", "titleBaseline": "middle", "titlePadding": 140, "titleY": 203}},
       "text": {"field": "t"}
     }},
    {"data": {"name": "bPhi"},
     "mark": {"type": "text", "color": "#ff0000", "font": "Liberation Serif", "fontSize": 44, "align": "center", "baseline": "middle"},
     "encoding": {
       "x": {"field": "f", "type": "quantitative", "scale": {"type": "log", "domain": [5, 1000], "nice": false}, "axis": null},
       "y": {"field": "p", "type": "quantitative", "scale": {"type": "log", "domain": [0.00001, 1], "nice": false},
             "axis": {"orient": "left", "values": [0.00001,0.00002,0.00003,0.00004,0.00005,0.00006,0.00007,0.00008,0.00009,0.0001,0.0002,0.0003,0.0004,0.0005,0.0006,0.0007,0.0008,0.0009,0.001,0.002,0.003,0.004,0.005,0.006,0.007,0.008,0.009,0.01,0.02,0.03,0.04,0.05,0.06,0.07,0.08,0.09,0.1,0.2,0.3,0.4,0.5,0.6,0.7,0.8,0.9,1], "labels": false, "tickWidth": 1.5, "tickSize": {"condition": {"test": "abs(log(datum.value)/LN10 - round(log(datum.value)/LN10)) < 0.001", "value": -10}, "value": -5}, "title": null}},
       "text": {"field": "t"}
     }}
  ]
}
]
}
